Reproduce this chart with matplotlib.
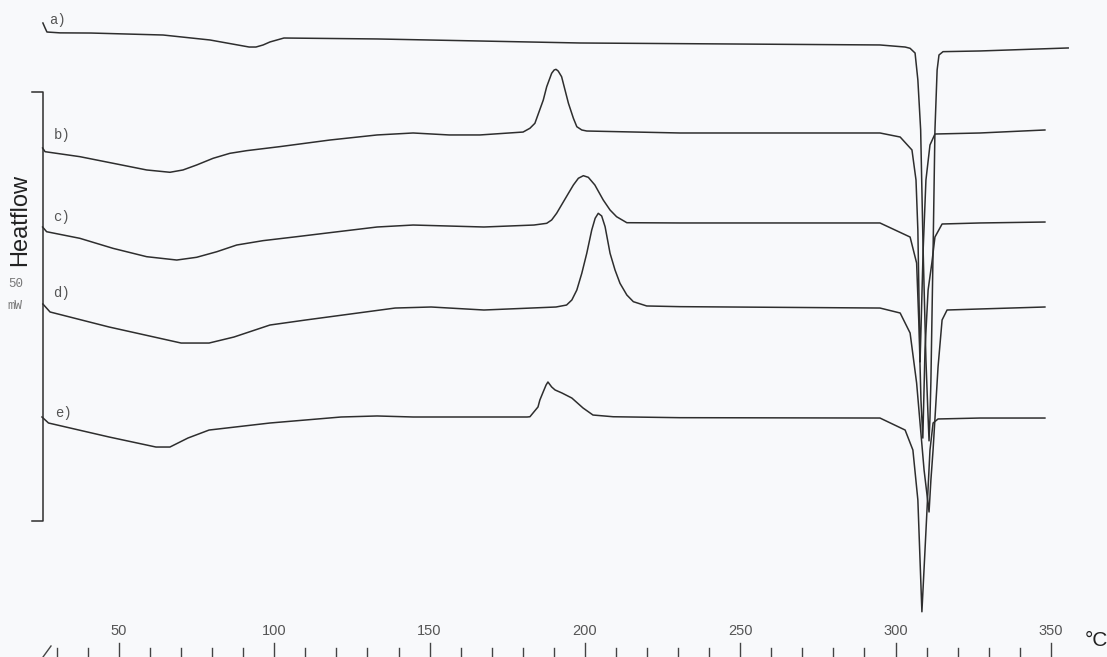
import matplotlib
matplotlib.use("Agg")
import matplotlib.pyplot as plt
import numpy as np

# ---------------- data (temperature in °C, heat flow in mW relative to start) ----------------
T_a = [25.5, 26.2, 26.8, 31.0, 41.0, 64.2, 79.3, 91.9, 94.1, 96.4, 98.6, 103.1, 133.1, 198.4,
       295.0, 303.1, 304.7, 306.3, 307.2, 308.1, 308.9, 309.8, 310.5, 310.8, 311.1, 311.4,
       312.1, 312.7, 313.4, 314.0, 315.3, 327.2, 355.6]
hf_a = [0.0, -0.58, -1.05, -1.15, -1.17, -1.40, -1.98, -2.80, -2.80, -2.56, -2.21, -1.75, -1.86, -2.33,
        -2.56, -2.80, -2.95, -3.50, -6.64, -12.47, -26.5, -39.3, -46.0, -48.7, -46.0, -41.7,
        -26.5, -12.47, -5.48, -3.73, -3.34, -3.26, -2.91]

T_b = [25.4, 26.2, 37.4, 48.1, 58.9, 66.4, 70.6, 75.0, 80.3, 85.7, 91.1, 101.8, 117.9, 133.1,
       144.7, 156.3, 166.2, 180.1, 182.3, 183.9, 186.6, 187.7, 189.3, 190.1, 190.7, 191.4, 192.5,
       193.6, 194.7, 196.3, 197.4, 199.0, 200.6, 230.6, 295.0, 301.5, 305.3, 306.6, 307.2, 307.9,
       308.2, 308.9, 309.8, 311.1, 312.7, 327.2, 348.1]
hf_b = [0.0, -0.43, -1.01, -1.78, -2.56, -2.83, -2.56, -1.98, -1.20, -0.62, -0.31, 0.16, 0.93, 1.52,
        1.75, 1.52, 1.52, 1.86, 2.30, 2.88, 5.59, 7.14, 8.71, 9.09, 9.17, 8.97, 8.31,
        6.76, 5.21, 3.46, 2.48, 2.10, 1.98, 1.75, 1.75, 1.28, -0.23, -3.73, -9.56, -24.94,
        -21.2, -11.9, -3.73, 0.35, 1.63, 1.75, 2.10]

T_c = [25.4, 26.7, 37.4, 48.1, 58.9, 68.6, 75.0, 81.5, 87.9, 96.4, 107.2, 117.9, 133.1, 144.7,
       167.5, 183.6, 187.7, 189.3, 190.9, 193.1, 194.7, 196.3, 197.9, 199.5, 201.1, 203.2, 205.9,
       208.1, 210.2, 213.5, 230.6, 295.0, 304.7, 306.8, 307.6, 308.2, 308.8, 309.5, 310.5, 311.7,
       312.7, 315.0, 327.2, 348.1]
hf_c = [0.0, -0.55, -1.32, -2.49, -3.46, -3.85, -3.53, -2.88, -2.10, -1.59, -1.13, -0.66, 0.0, 0.23,
        0.0, 0.23, 0.43, 0.82, 1.60, 2.95, 3.93, 4.90, 5.68, 5.98, 5.79, 4.90, 3.15,
        1.98, 1.20, 0.50, 0.47, 0.47, -1.17, -4.20, -12.0, -20.2, -24.6, -14.3, -7.34, -4.20,
        -1.17, 0.35, 0.47, 0.58]

T_d = [25.5, 27.8, 46.8, 70.0, 79.0, 87.0, 98.6, 110.2, 138.9, 150.5, 167.5, 190.7, 194.1, 195.8,
       197.4, 199.0, 200.6, 202.2, 203.3, 204.3, 205.4, 206.5, 208.1, 209.7, 211.3, 213.5, 215.6,
       219.9, 230.6, 295.0, 301.5, 304.7, 306.8, 309.2, 310.8, 311.4, 312.1, 313.7, 315.0, 316.6,
       327.2, 348.1]
hf_d = [0.0, -0.93, -2.68, -4.55, -4.55, -3.85, -2.45, -1.86, -0.47, -0.35, -0.70, -0.35, -0.12, 0.47,
        1.63, 3.58, 5.91, 8.62, 9.99, 10.57, 10.26, 9.01, 5.91, 3.96, 2.41, 1.05, 0.27,
        -0.23, -0.31, -0.47, -1.05, -3.38, -9.21, -19.35, -24.24, -20.5, -17.0, -7.34, -1.86, -0.70,
        -0.58, -0.35]

T_e = [25.2, 27.3, 46.8, 61.9, 66.4, 72.2, 79.0, 98.6, 121.5, 133.1, 144.7, 181.4, 182.3, 184.9,
       185.5, 186.6, 187.5, 188.1, 189.3, 190.4, 192.6, 195.8, 199.4, 202.6, 209.1, 230.6, 295.0,
       303.1, 305.6, 307.2, 308.5, 309.5, 311.1, 312.1, 313.7, 327.2, 348.1]
hf_e = [0.0, -0.70, -2.33, -3.50, -3.50, -2.45, -1.52, -0.70, 0.0, 0.12, 0.0, 0.0, 0.03, 1.17,
        1.98, 2.95, 3.73, 4.08, 3.50, 3.15, 2.80, 2.21, 1.05, 0.23, 0.03, -0.08, -0.12,
        -1.52, -3.85, -9.67, -22.7, -15.5, -3.85, -0.70, -0.23, -0.12, -0.12]

curve_labels = ["a)", "b)", "c)", "d)", "e)"]
x_ticks_major = [50, 100, 150, 200, 250, 300, 350]
x_ticks_minor = list(range(30, 351, 10))
scale_bar_mW = 50

# ---------------- layout ----------------
W, H = 1107, 657
PX_PER_C = 3.106
PX_PER_MW = 8.58
XMIN = 50 - 119 / PX_PER_C
XMAX = XMIN + W / PX_PER_C
YMAX = 0.0
YMIN = -H / PX_PER_MW

def px_x(x):
    return XMIN + x / PX_PER_C

def px_y(y):
    return -y / PX_PER_MW

offsets = [px_y(23), px_y(148), px_y(227), px_y(304), px_y(417)]
label_pos = [(58, 20), (62, 135), (62, 217), (62, 293), (63, 413)]

bg = "#f8f9fb"
line_col = "#2e2e2e"
text_col = "#555555"

fig = plt.figure(figsize=(W / 100, H / 100), dpi=100, facecolor=bg)
ax = fig.add_axes([0, 0, 1, 1])
ax.set_facecolor(bg)
ax.set_xlim(XMIN, XMAX)
ax.set_ylim(YMIN, YMAX)
ax.axis("off")

series = [(T_a, hf_a), (T_b, hf_b), (T_c, hf_c), (T_d, hf_d), (T_e, hf_e)]
for (T, hf), off, lab, (lx, ly) in zip(series, offsets, curve_labels, label_pos):
    ax.plot(T, np.array(hf) + off, color=line_col, lw=1.1, solid_joinstyle="round")
    ax.text(px_x(lx), px_y(ly), lab, family="Liberation Mono", fontsize=10,
            color=text_col, ha="center", va="center")

# scale bar (50 mW)
xb = px_x(43)
top = px_y(92)
bot = top - scale_bar_mW
ax.plot([px_x(32), xb, xb, px_x(32)], [top, top, bot, bot], color=line_col, lw=1.1)
ax.text(px_x(16), px_y(284), f"{scale_bar_mW}", family="Liberation Mono", fontsize=9,
        color="#777777", ha="center", va="center")
ax.text(px_x(15), px_y(306), "mW", family="Liberation Mono", fontsize=9,
        color="#777777", ha="center", va="center")
ax.text(px_x(20), px_y(220), "Heatflow", family="Liberation Sans", fontsize=17,
        color="#222222", rotation=90, ha="center", va="center")

# temperature axis at the bottom
ybot = px_y(H)
for t in x_ticks_minor:
    h = 14 if t % 50 == 0 else 9
    ax.plot([t, t], [ybot, px_y(H - h)], color="#444444", lw=1.0)
for t in x_ticks_major:
    ax.text(t, px_y(631), str(t), family="Liberation Sans", fontsize=10.5,
            color=text_col, ha="center", va="center")
ax.plot([px_x(43), px_x(51)], [px_y(657), px_y(646)], color="#444444", lw=1.0)
ax.text(px_x(1096), px_y(640), "°C", family="Liberation Sans", fontsize=15,
        color="#222222", ha="center", va="center")

fig.savefig("out.png", dpi=100, facecolor=bg)
